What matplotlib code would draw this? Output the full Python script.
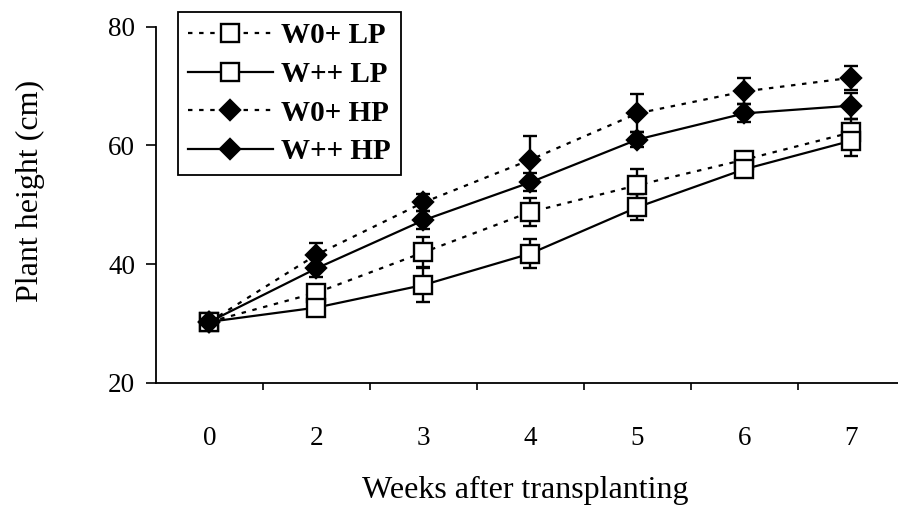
import numpy as np
import matplotlib.pyplot as plt

plt.rcParams['font.family'] = ['Liberation Serif', 'DejaVu Serif']

weeks = ['0', '2', '3', '4', '5', '6', '7']

w0_lp = [30.3, 35.2, 42.0, 48.8, 53.3, 57.6, 62.2]
w0_lp_err = [0.5, 1.0, 2.5, 2.3, 2.7, 1.0, 2.3]
wpp_lp = [30.3, 32.7, 36.5, 41.8, 49.6, 56.0, 60.8]
wpp_lp_err = [0.5, 1.5, 2.9, 2.5, 2.2, 1.0, 2.6]
w0_hp = [30.3, 41.6, 50.4, 57.6, 65.4, 69.1, 71.4]
w0_hp_err = [0.5, 2.0, 1.5, 4.0, 3.2, 2.2, 2.0]
wpp_hp = [30.3, 39.3, 47.4, 53.8, 61.0, 65.4, 66.7]
wpp_hp_err = [0.5, 1.5, 1.5, 1.5, 1.3, 1.5, 2.2]

labels = ['W0+ LP', 'W++ LP', 'W0+ HP', 'W++ HP']

x = np.arange(len(weeks))

fig = plt.figure(figsize=(8.98, 5.24), dpi=100)
ax = fig.add_axes([0.1737, 0.2691, 0.834, 0.680])

dotted = (0, (2, 3))
series = [
    (w0_lp, w0_lp_err, dotted, 's', 'white', 13),
    (wpp_lp, wpp_lp_err, '-', 's', 'white', 13),
    (w0_hp, w0_hp_err, dotted, 'D', 'black', 10),
    (wpp_hp, wpp_hp_err, '-', 'D', 'black', 10),
]

handles = []
for (vals, err, ls, mk, fc, ms), lab in zip(series, labels):
    ax.errorbar(x, vals, yerr=err, fmt='none', ecolor='black',
                elinewidth=1.7, capsize=5, capthick=1.7, zorder=2)
    h, = ax.plot(x, vals, linestyle=ls, color='black', lw=1.6,
                 marker=mk, markersize=ms, markerfacecolor=fc,
                 markeredgecolor='black', markeredgewidth=1.7,
                 label=lab, zorder=3)
    handles.append(h)

ax.set_xlim(-0.5, len(weeks) - 0.5)
ax.set_ylim(20, 80)
ax.set_yticks([20, 40, 60, 80])
ax.set_xticks(x)
ax.set_xticklabels(weeks)
ax.set_xticks(x[:-1] + 0.5, minor=True)

for s in ['top', 'right']:
    ax.spines[s].set_visible(False)
for s in ['left', 'bottom']:
    ax.spines[s].set_linewidth(1.3)

ax.tick_params(axis='x', which='major', length=0, pad=31, labelsize=19.5)
ax.tick_params(axis='x', which='minor', direction='out', length=5, width=1.2)
ax.tick_params(axis='y', direction='out', length=7, width=1.2, pad=8,
               labelsize=19.5)

ax.set_ylabel('Plant height (cm)', fontsize=23)
ax.yaxis.set_label_coords(-0.148, 0.54)
ax.set_xlabel('Weeks after transplanting', fontsize=23)
ax.xaxis.set_label_coords(0.493, -0.262)

leg = ax.legend(handles=handles, loc='upper left',
                bbox_to_anchor=(0.198, 0.977),
                bbox_transform=fig.transFigure, borderaxespad=0,
                prop={'weight': 'bold', 'size': 21}, handlelength=2.9,
                fancybox=False, framealpha=1, edgecolor='black',
                labelspacing=0.4, borderpad=0.35, handletextpad=0.3)
leg.get_frame().set_linewidth(1.3)

fig.savefig('out.png', dpi=100)
